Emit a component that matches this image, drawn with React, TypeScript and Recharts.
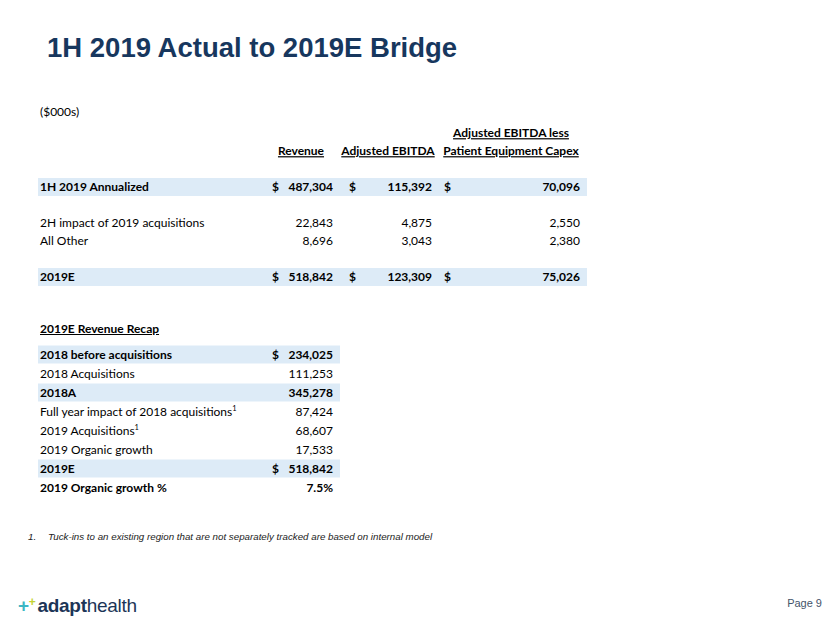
import React from "react";
import { Bar, BarChart, XAxis, YAxis } from "recharts";

// bridge table
const bridgeLabels = ["1H 2019 Annualized", "2H impact of 2019 acquisitions", "All Other", "2019E"];
const revenue = [487304, 22843, 8696, 518842];
const adjEbitda = [115392, 4875, 3043, 123309];
const ebitdaLessCapex = [70096, 2550, 2380, 75026];
const bridgeTotals = ["1H 2019 Annualized", "2019E"];
const columnHeaders = ["Revenue", "Adjusted EBITDA", "Adjusted EBITDA less", "Patient Equipment Capex"];

// revenue recap
const recapLabels = [
  "2018 before acquisitions",
  "2018 Acquisitions",
  "2018A",
  "Full year impact of 2018 acquisitions",
  "2019 Acquisitions",
  "2019 Organic growth",
  "2019E",
  "2019 Organic growth %"
];
const recapValues = [234025, 111253, 345278, 87424, 68607, 17533, 518842];
const organicGrowthPct = 7.5;
const recapShaded = ["2018 before acquisitions", "2018A", "2019E"];
const recapBold = ["2018 before acquisitions", "2018A", "2019E", "2019 Organic growth %"];
const recapDollar = ["2018 before acquisitions", "2019E"];
const recapFootnoted = ["Full year impact of 2018 acquisitions", "2019 Acquisitions"];

const shade = "#DDEBF7";
const ink = "#000000";
const navy = "#17375E";
const font = "Lato, 'Noto Sans', sans-serif";
const fmt = (v: number) => v.toLocaleString("en-US");

type Row = {
  id: string;
  kind: "head1" | "head2" | "blank" | "data";
  label?: string;
  rev?: number;
  ebitda?: number;
  capex?: number;
  total?: boolean;
  shade: number;
  cell: number;
};

const dataRow = (i: number): Row => {
  const total = bridgeTotals.includes(bridgeLabels[i]);
  return {
    id: `r${i}`,
    kind: "data",
    label: bridgeLabels[i],
    rev: revenue[i],
    ebitda: adjEbitda[i],
    capex: ebitdaLessCapex[i],
    total,
    shade: total ? 1 : 0,
    cell: 1
  };
};

const bridgeRows: Row[] = [
  { id: "h1", kind: "head1", shade: 0, cell: 1 },
  { id: "h2", kind: "head2", shade: 0, cell: 1 },
  { id: "b1", kind: "blank", shade: 0, cell: 1 },
  dataRow(0),
  { id: "b2", kind: "blank", shade: 0, cell: 1 },
  dataRow(1),
  dataRow(2),
  { id: "b3", kind: "blank", shade: 0, cell: 1 },
  dataRow(3)
];

const recapRows = recapLabels.map((label, i) => ({
  id: label,
  label,
  value: i < recapValues.length ? fmt(recapValues[i]) : `${organicGrowthPct.toFixed(1)}%`,
  bold: recapBold.includes(label),
  dollar: recapDollar.includes(label),
  note: recapFootnoted.includes(label),
  shade: recapShaded.includes(label) ? 1 : 0,
  cell: 1
}));

// column offsets inside the bridge chart
const col = { label: 2, rev$: 234, rev: 295, eb$: 311, eb: 394, cx$: 406, cx: 542 };
const head = { rev: 263, eb: 350, cx: 473 };

const base = { fontFamily: font, fontSize: 12, fill: ink, dy: "0.35em" };

// each row is one full-width band; the band is shaded for total rows
function BridgeCell(props: any) {
  const { x, y, width, height, payload } = props;
  const row = payload as Row;
  const cy = y + height / 2;
  const left = x;
  let content: React.ReactNode = null;
  if (row.kind === "head1") {
    content = (
      <text {...base} x={left + head.cx} y={cy} textAnchor="middle" fontWeight={700} textDecoration="underline">
        {columnHeaders[2]}
      </text>
    );
  } else if (row.kind === "head2") {
    content = (
      <g fontWeight={700}>
        <text {...base} x={left + head.rev} y={cy} textAnchor="middle" textDecoration="underline">{columnHeaders[0]}</text>
        <text {...base} x={left + head.eb} y={cy} textAnchor="middle" textDecoration="underline">{columnHeaders[1]}</text>
        <text {...base} x={left + head.cx} y={cy} textAnchor="middle" textDecoration="underline">{columnHeaders[3]}</text>
      </g>
    );
  } else if (row.kind === "data") {
    content = (
      <g fontWeight={row.total ? 700 : 400}>
        <text {...base} x={left + col.label} y={cy}>{row.label}</text>
        {row.total && <text {...base} x={left + col.rev$} y={cy}>$</text>}
        <text {...base} x={left + col.rev} y={cy} textAnchor="end">{fmt(row.rev!)}</text>
        {row.total && <text {...base} x={left + col.eb$} y={cy}>$</text>}
        <text {...base} x={left + col.eb} y={cy} textAnchor="end">{fmt(row.ebitda!)}</text>
        {row.total && <text {...base} x={left + col.cx$} y={cy}>$</text>}
        <text {...base} x={left + col.cx} y={cy} textAnchor="end">{fmt(row.capex!)}</text>
      </g>
    );
  }
  return (
    <g>
      {row.shade ? <rect x={x} y={y} width={width} height={height} fill={shade} /> : null}
      {content}
    </g>
  );
}

function RecapCell(props: any) {
  const { x, y, width, height, payload } = props;
  const row = payload as (typeof recapRows)[number];
  const cy = y + height / 2;
  return (
    <g fontWeight={row.bold ? 700 : 400}>
      {row.shade ? <rect x={x} y={y + 0.5} width={width} height={height - 1} fill={shade} /> : null}
      <text {...base} x={x + 2} y={cy}>
        {row.label}
        {row.note && (
          <tspan dy="-5" fontSize={7.5}>
            1
          </tspan>
        )}
      </text>
      {row.dollar && <text {...base} x={x + 234} y={cy}>$</text>}
      <text {...base} x={x + 295} y={cy} textAnchor="end">{row.value}</text>
    </g>
  );
}

export default function App() {
  return (
    <div style={{ position: "absolute", left: 0, top: 0, width: 830, height: 623, background: "#fff", fontFamily: font }}>
      <div style={{ position: "absolute", left: 47, top: 32, fontFamily: "'Liberation Sans', Arial, sans-serif", fontWeight: 700, fontSize: 27.5, color: navy, whiteSpace: "nowrap" }}>
        1H 2019 Actual to 2019E Bridge
      </div>
      <div style={{ position: "absolute", left: 40, top: 104, fontSize: 12, color: ink }}>($000s)</div>

      <div style={{ position: "absolute", left: 38, top: 124 }}>
        <BarChart width={549} height={162} data={bridgeRows} layout="vertical" barCategoryGap={0} margin={{ top: 0, right: 0, bottom: 0, left: 0 }}>
          <XAxis type="number" domain={[0, 1]} hide />
          <YAxis type="category" dataKey="id" hide />
          <Bar dataKey="cell" isAnimationActive={false} shape={<BridgeCell />} />
        </BarChart>
      </div>

      <div style={{ position: "absolute", left: 40, top: 321, fontSize: 12, fontWeight: 700, color: ink, textDecoration: "underline" }}>
        2019E Revenue Recap
      </div>

      <div style={{ position: "absolute", left: 38, top: 345 }}>
        <BarChart width={302} height={152} data={recapRows} layout="vertical" barCategoryGap={0} margin={{ top: 0, right: 0, bottom: 0, left: 0 }}>
          <XAxis type="number" domain={[0, 1]} hide />
          <YAxis type="category" dataKey="id" hide />
          <Bar dataKey="cell" isAnimationActive={false} shape={<RecapCell />} />
        </BarChart>
      </div>

      <div style={{ position: "absolute", left: 28, top: 531, fontFamily: "'Liberation Sans', Arial, sans-serif", fontStyle: "italic", fontSize: 9.75, color: "#222", whiteSpace: "nowrap" }}>
        <span style={{ display: "inline-block", width: 20 }}>1.</span>
        Tuck-ins to an existing region that are not separately tracked are based on internal model
      </div>

      <div style={{ position: "absolute", left: 18, top: 595, whiteSpace: "nowrap", fontFamily: "'Liberation Sans', Arial, sans-serif", fontSize: 19, color: "#1C3557", letterSpacing: -0.3 }}>
        <span style={{ color: "#3DB7C4", fontWeight: 700, fontSize: 19 }}>+</span>
        <span style={{ color: "#C5D331", fontWeight: 700, fontSize: 12, position: "relative", top: -6, marginRight: 2 }}>+</span>
        <span style={{ fontWeight: 700 }}>adapt</span>
        <span>health</span>
      </div>

      <div style={{ position: "absolute", right: 8, top: 597, fontFamily: "'Liberation Sans', Arial, sans-serif", fontSize: 11, color: "#44546A" }}>
        Page 9
      </div>
    </div>
  );
}
